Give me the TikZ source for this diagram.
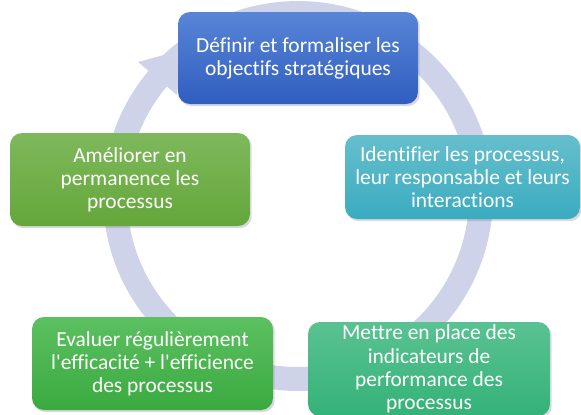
\documentclass[tikz,border=0pt]{standalone}
\usepackage{fontspec}
\setmainfont[Ligatures={NoCommon,TeXOff}]{Carlito}
\usetikzlibrary{shadows,backgrounds}

\definecolor{ringcol}{RGB}{206,211,234}
\definecolor{blueA}{RGB}{88,133,214}
\definecolor{blueB}{RGB}{48,94,192}
\definecolor{tealA}{RGB}{102,190,204}
\definecolor{tealB}{RGB}{58,172,192}
\definecolor{leafA}{RGB}{126,184,92}
\definecolor{leafB}{RGB}{100,167,58}
\definecolor{grassA}{RGB}{92,192,96}
\definecolor{grassB}{RGB}{58,170,64}
\definecolor{mintA}{RGB}{90,194,146}
\definecolor{mintB}{RGB}{52,178,120}

\begin{document}
\begin{tikzpicture}[x=0.02cm,y=-0.02cm,
                    box node/.style={rectangle,rounded corners=6.8pt,text=white,align=center,
                      font=\fontsize{12.2}{13.2}\selectfont,inner sep=0pt,
                      drop shadow={shadow xshift=1pt,shadow yshift=-1.2pt,opacity=0.3}}]
  \useasboundingbox (0,0) rectangle (581,414);

  % ring behind the boxes
  \coordinate (c) at (298,196);
  \draw[ringcol,line width=0.48cm] (c) circle[radius=3.66cm];
  \coordinate (h1) at (138,62);
  \coordinate (h2) at (177,95);
  \coordinate (tip) at (182,50);
  \fill[ringcol] (h1) -- (tip) -- (h2) -- cycle;

  \node[box node,top color=blueA,bottom color=blueB,minimum width=4.8cm,minimum height=1.84cm]
    (def) at (298,58) {Définir et formaliser les\\objectifs stratégiques};
  \node[box node,top color=tealA,bottom color=tealB,minimum width=4.7cm,minimum height=1.68cm]
    (ident) at (462.5,177) {Identifier les processus,\\leur responsable et leurs\\interactions};
  \node[box node,top color=mintA,bottom color=mintB,minimum width=4.84cm,minimum height=1.88cm]
    (mettre) at (429,369) {Mettre en place des\\indicateurs de\\performance des\\processus};
  \node[box node,top color=grassA,bottom color=grassB,minimum width=4.82cm,minimum height=1.86cm]
    (eval) at (152.5,363.5) {Evaluer régulièrement\\l'efficacité + l'efficience\\des processus};
  \node[box node,top color=leafA,bottom color=leafB,minimum width=4.8cm,minimum height=1.86cm]
    (amel) at (130,179.5) {Améliorer en\\permanence les\\processus};

\end{tikzpicture}
\end{document}
